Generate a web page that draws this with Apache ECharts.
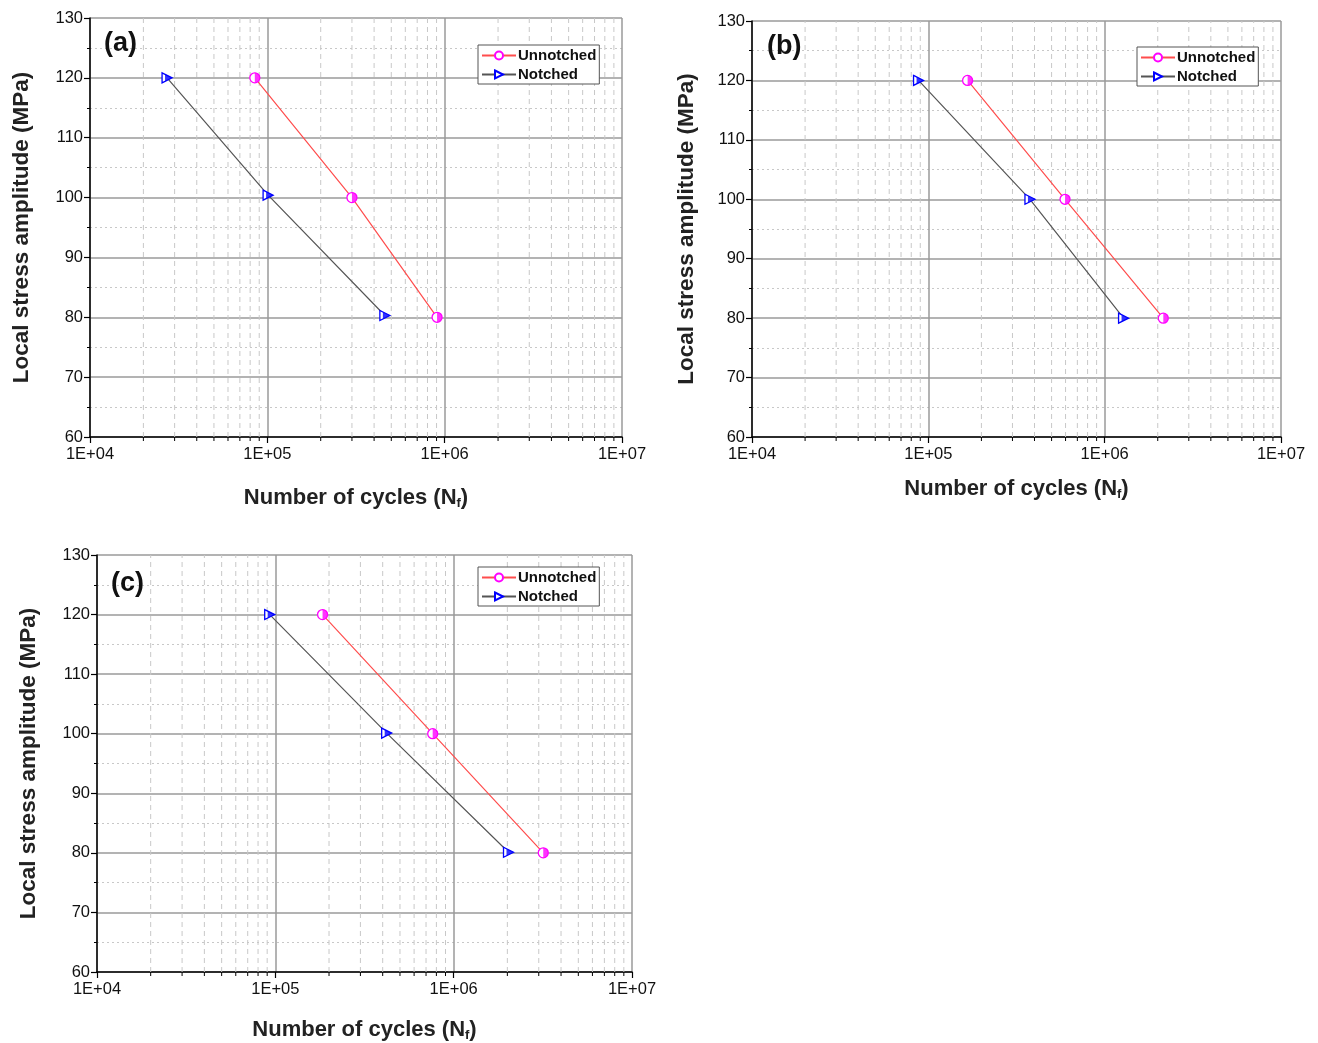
<!DOCTYPE html>
<html><head><meta charset="utf-8">
<script src="https://cdn.jsdelivr.net/npm/echarts@6/dist/echarts.min.js"></script>
<style>html,body{margin:0;padding:0;background:#fff}#c{width:1318px;height:1043px}</style>
</head><body><div id="c"></div>
<script>
// ---- data ----
const panelLabels = ['(a)', '(b)', '(c)'];
const yTicks = [60, 70, 80, 90, 100, 110, 120, 130];
const xTickLabels = ['1E+04', '1E+05', '1E+06', '1E+07'];
const xMinorValues = [2e4,3e4,4e4,5e4,6e4,7e4,8e4,9e4,2e5,3e5,4e5,5e5,6e5,7e5,8e5,9e5,2e6,3e6,4e6,5e6,6e6,7e6,8e6,9e6];
const stressLevels = [120, 100, 80];
const unnotchedA = [8.5e4, 3.0e5, 9.06e5];
const notchedA = [2.72e4, 1.01e5, 4.6e5];
const notchedAStress = [120, 100.4, 80.3];
const unnotchedB = [1.67e5, 5.96e5, 2.15e6];
const notchedB = [8.8e4, 3.77e5, 1.28e6];
const notchedBStress = [120, 100, 80];
const unnotchedC = [1.84e5, 7.63e5, 3.18e6];
const notchedC = [9.3e4, 4.21e5, 2.03e6];
const notchedCStress = [120, 100.1, 80.1];

const panels = [
  {u: unnotchedA, us: stressLevels, n: notchedA, ns: notchedAStress},
  {u: unnotchedB, us: stressLevels, n: notchedB, ns: notchedBStress},
  {u: unnotchedC, us: stressLevels, n: notchedC, ns: notchedCStress}
];
// ---- layout ----
const grids = [
  {left: 90, top: 18, width: 532, height: 419},
  {left: 752, top: 21, width: 529, height: 416},
  {left: 97, top: 555, width: 535, height: 417}
];
const yNameGap = [57, 54, 57];
const xNameGap = [49, 40, 46];
const labelPos = [{left: 99, top: 25}, {left: 762, top: 28}, {left: 106, top: 565}];
const legendPos = [{left: 478, top: 45}, {left: 1137, top: 47}, {left: 478, top: 567}];

const FONT = 'Liberation Sans, Arial, sans-serif';
const MAG = '#ff00ff', BLUE = '#0000ff';
const TRI = 'path://M0,0 L10,5 L0,10 Z';

const xAxes = [], yAxes = [], series = [], titles = [], legends = [];
grids.forEach((g, i) => {
  xAxes.push({
    gridIndex: i, type: 'log', logBase: 10, min: 1e4, max: 1e7,
    name: '{a|Number of cycles (N}{s|f}{a|)}', nameLocation: 'middle', nameGap: xNameGap[i],
    nameTextStyle: {rich: {
      a: {fontFamily: FONT, fontWeight: 'bold', fontSize: 22, color: '#222'},
      s: {fontFamily: FONT, fontWeight: 'bold', fontSize: 13, color: '#222', verticalAlign: 'bottom', padding: [11, 0, 0, 0]}
    }},
    axisLine: {show: true, onZero: false, lineStyle: {color: '#000', width: 1.5}},
    axisTick: {show: true, length: 6, lineStyle: {color: '#000', width: 1.2}},
    axisLabel: {fontFamily: FONT, fontSize: 16.5, color: '#111', margin: 9,
      formatter: v => xTickLabels[Math.round(Math.log10(v)) - 4]},
    splitLine: {show: true, lineStyle: {color: '#9a9a9a', width: 1.5}}
  });
  yAxes.push({
    gridIndex: i, type: 'value', min: yTicks[0], max: yTicks[yTicks.length - 1], interval: 10,
    name: 'Local stress amplitude (MPa)', nameLocation: 'middle', nameGap: yNameGap[i],
    nameTextStyle: {fontFamily: FONT, fontWeight: 'bold', fontSize: 22.5, color: '#222'},
    axisLine: {show: true, onZero: false, lineStyle: {color: '#000', width: 1.5}},
    axisTick: {show: true, length: 6, lineStyle: {color: '#000', width: 1.2}},
    minorTick: {show: true, splitNumber: 2, length: 3, lineStyle: {color: '#000', width: 1}},
    minorSplitLine: {show: true, lineStyle: {color: '#c8c8c8', width: 1, type: [2, 3]}},
    axisLabel: {fontFamily: FONT, fontSize: 16.5, color: '#111', margin: 7},
    splitLine: {show: true, lineStyle: {color: '#9a9a9a', width: 1.5}}
  });
  titles.push({text: panelLabels[i], left: labelPos[i].left, top: labelPos[i].top,
    textStyle: {fontFamily: FONT, fontWeight: 'bold', fontSize: 27, color: '#111'}});
  legends.push({
    left: legendPos[i].left, top: legendPos[i].top, orient: 'vertical',
    data: ['Unnotched', 'Notched'], selectedMode: false,
    backgroundColor: '#fff', borderColor: '#555', borderWidth: 1, borderRadius: 0,
    padding: [3, 3, 2, 3], itemGap: 4, itemWidth: 34, itemHeight: 10,
    textStyle: {fontFamily: FONT, fontWeight: 'bold', fontSize: 15, color: '#111', padding: [0, 0, 0, -3]}
  });
  // minor grid lines / ticks for the log axis
  series.push({
    type: 'custom', xAxisIndex: i, yAxisIndex: i, silent: true, z: 1,
    data: xMinorValues.map(v => [v, yTicks[0]]),
    renderItem: (params, api) => {
      const v = api.value(0);
      const b = api.coord([v, yTicks[0]]);
      const t = api.coord([v, yTicks[yTicks.length - 1]]);
      return {type: 'group', children: [
        {type: 'line', shape: {x1: b[0], y1: b[1], x2: t[0], y2: t[1]},
          style: {stroke: '#c8c8c8', lineWidth: 1, lineDash: [5, 4]}},
        {type: 'line', shape: {x1: b[0], y1: b[1], x2: b[0], y2: b[1] + 4},
          style: {stroke: '#000', lineWidth: 1}}
      ]};
    }
  });
  const p = panels[i];
  series.push({
    name: 'Unnotched', type: 'line', xAxisIndex: i, yAxisIndex: i, z: 3,
    data: p.u.map((v, k) => [v, p.us[k]]),
    symbol: 'circle', symbolSize: 10,
    itemStyle: {color: '#fff', borderColor: MAG, borderWidth: 1.3},
    lineStyle: {color: '#ff4d4d', width: 1.2}
  });
  series.push({
    type: 'scatter', xAxisIndex: i, yAxisIndex: i, z: 4, silent: true,
    data: p.u.map((v, k) => [v, p.us[k]]),
    symbol: 'path://M0,0 A10,10 0 0 1 0,20 Z', symbolSize: [5, 10], symbolOffset: [2.5, 0],
    itemStyle: {color: MAG}
  });
  series.push({
    name: 'Notched', type: 'line', xAxisIndex: i, yAxisIndex: i, z: 3,
    data: p.n.map((v, k) => [v, p.ns[k]]),
    symbol: TRI, symbolSize: 10,
    itemStyle: {color: '#fff', borderColor: BLUE, borderWidth: 1.3},
    lineStyle: {color: '#555', width: 1.2}
  });
  series.push({
    type: 'scatter', xAxisIndex: i, yAxisIndex: i, z: 4, silent: true,
    data: p.n.map((v, k) => [v, p.ns[k]]),
    symbol: TRI, symbolSize: [7, 7], symbolOffset: [1.5, 0],
    itemStyle: {color: BLUE}
  });
});

const chart = echarts.init(document.getElementById('c'), null, {renderer: 'canvas'});
chart.setOption({
  animation: false,
  backgroundColor: '#fff',
  title: titles,
  legend: legends,
  grid: grids.map(g => Object.assign({containLabel: false, outerBoundsMode: 'none'}, g)),
  xAxis: xAxes,
  yAxis: yAxes,
  series: series
});
</script></body></html>
